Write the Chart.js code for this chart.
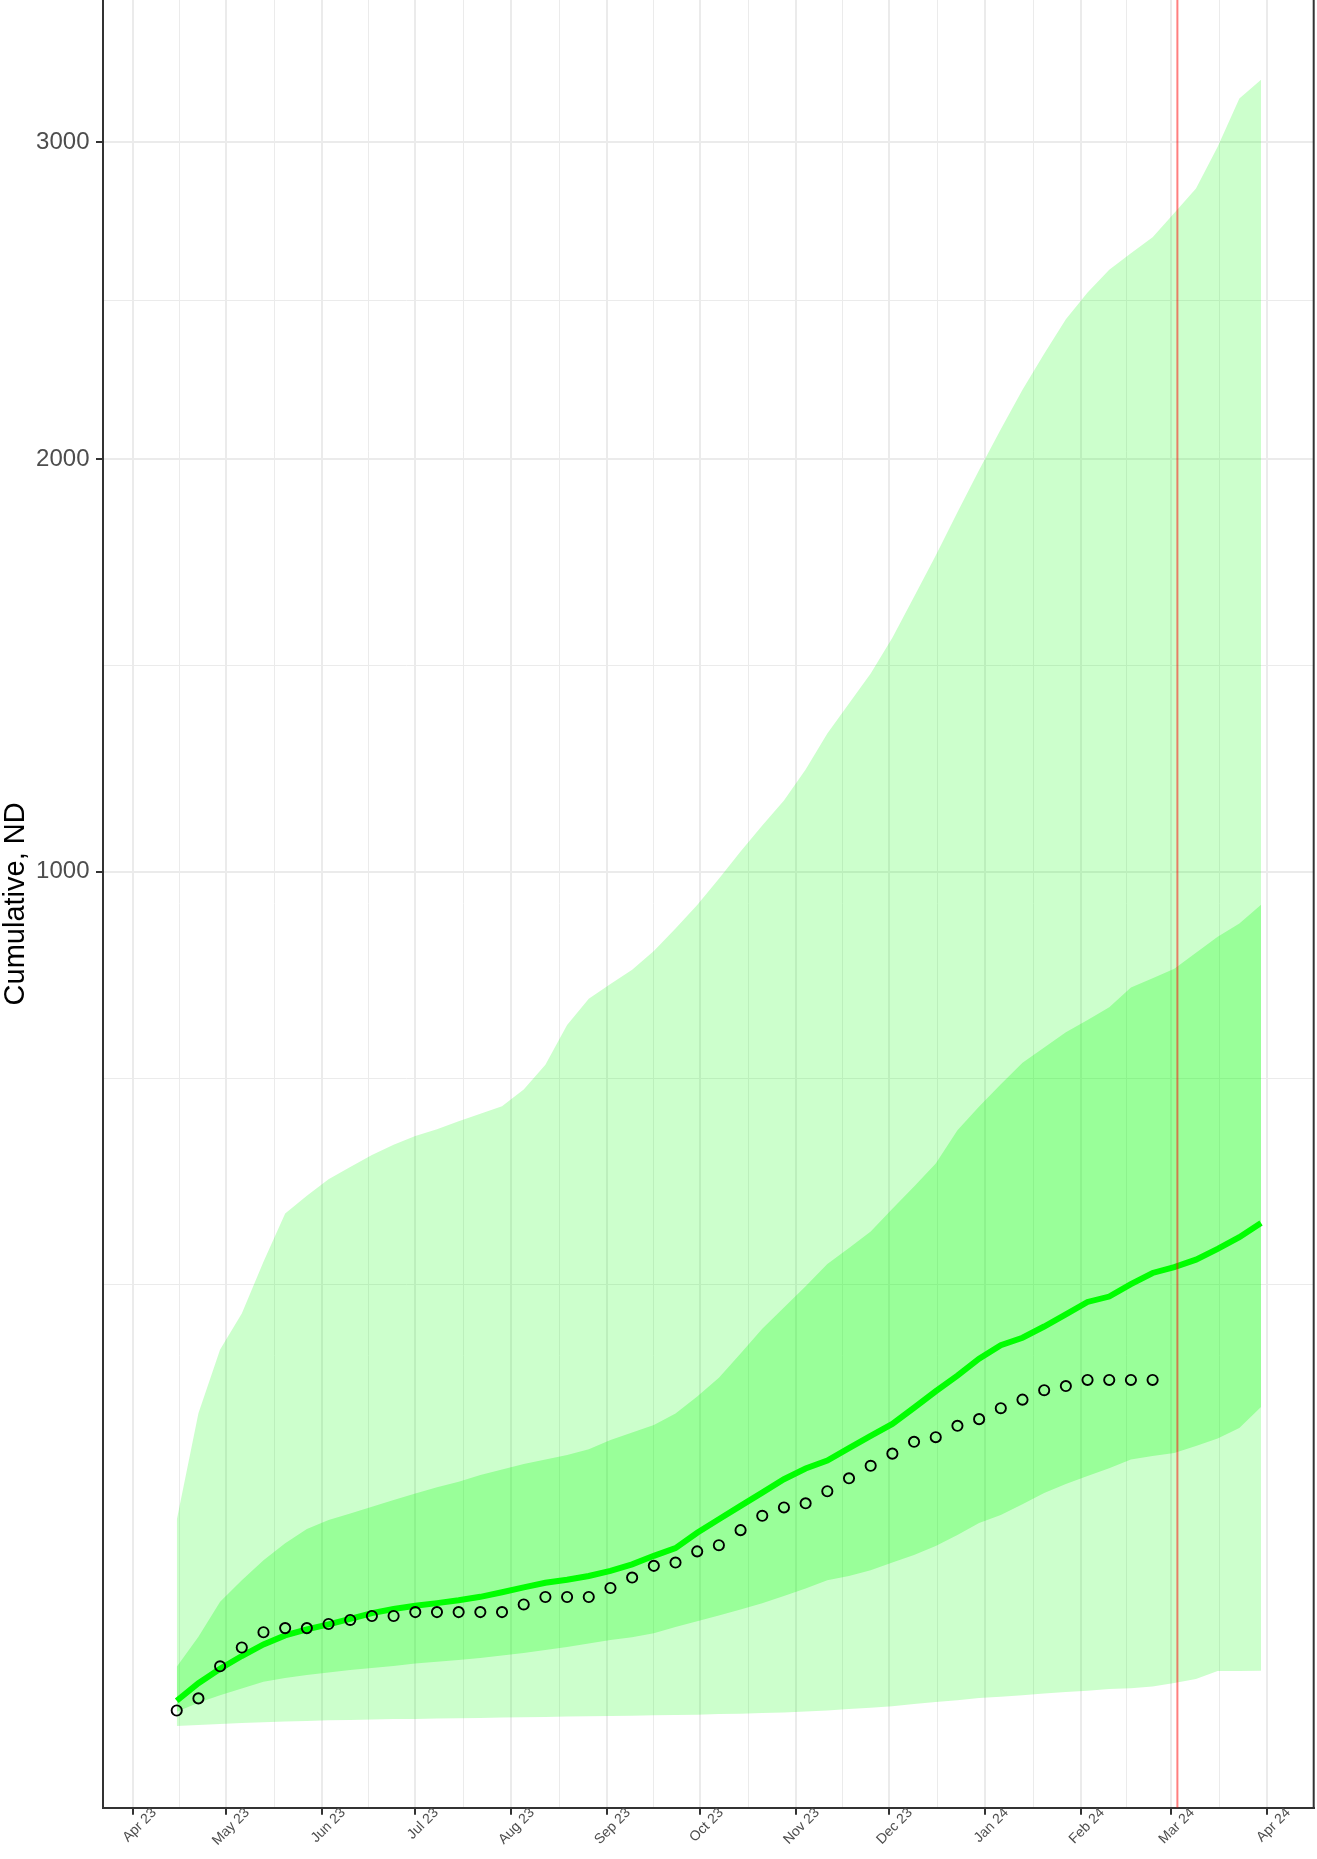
<!DOCTYPE html>
<html>
<head>
<meta charset="utf-8">
<script src="https://cdn.jsdelivr.net/npm/chart.js@4.4.0/dist/chart.umd.min.js"></script>
<style>
  html, body { margin: 0; padding: 0; background: #ffffff; }
  #wrap { width: 1317px; height: 1859px; overflow: hidden; }
</style>
</head>
<body>
<div id="wrap"><canvas id="chart" width="1317" height="1859"></canvas></div>
<script>
// weekly model dates
const weeks = [
  '2023-04-15', '2023-04-22', '2023-04-29', '2023-05-06', '2023-05-13', '2023-05-20', '2023-05-27',
  '2023-06-03', '2023-06-10', '2023-06-17', '2023-06-24', '2023-07-01', '2023-07-08', '2023-07-15',
  '2023-07-22', '2023-07-29', '2023-08-05', '2023-08-12', '2023-08-19', '2023-08-26', '2023-09-02',
  '2023-09-09', '2023-09-16', '2023-09-23', '2023-09-30', '2023-10-07', '2023-10-14', '2023-10-21',
  '2023-10-28', '2023-11-04', '2023-11-11', '2023-11-18', '2023-11-25', '2023-12-02', '2023-12-09',
  '2023-12-16', '2023-12-23', '2023-12-30', '2024-01-06', '2024-01-13', '2024-01-20', '2024-01-27',
  '2024-02-03', '2024-02-10', '2024-02-17', '2024-02-24', '2024-03-02', '2024-03-09', '2024-03-16',
  '2024-03-23', '2024-03-30'
]

// observed cumulative counts (first 46 weeks)
const observed = [
  25, 29, 41, 49, 56, 58, 58, 60, 62, 64, 64, 66, 66, 66, 66, 66, 70, 74, 74, 74,
  79, 85, 92, 94, 101, 105, 115, 125, 131, 134, 143, 153, 163, 173, 183, 187, 197, 203, 213, 221,
  230, 234, 240, 240, 240, 240
]

// model median
const fitted = [
  28.2, 34.4, 40.0, 45.3, 50.4, 54.5, 57.4, 59.8, 62.5, 65.5, 67.6, 69.3, 70.7, 72.2, 74.1, 76.6,
  79.4, 82.0, 83.7, 85.9, 89.0, 92.9, 98.2, 103.1, 113.2, 122.5, 132.1, 142.0, 152.3, 160.8, 167.3,
  177.7, 188.1, 198.7, 213.4, 229.0, 244.3, 261.4, 275.3, 283.3, 295.4, 308.7, 322.8, 329.0, 343.5,
  356.7, 363.8, 372.9, 386.2, 400.9, 419.1
]

// inner interval
const innerLow = [
  24.6, 27.5, 30.1, 32.5, 35.0, 36.4, 37.5, 38.5, 39.5, 40.3, 41.1, 42.1, 42.9, 43.6, 44.4, 45.5,
  46.6, 47.9, 49.2, 50.8, 52.4, 53.7, 55.5, 58.5, 61.4, 64.2, 67.3, 70.7, 74.5, 78.7, 83.5, 85.9,
  89.4, 94.0, 98.7, 104.4, 111.7, 119.9, 125.5, 133.4, 141.6, 148.5, 154.8, 161.1, 168.1, 171.0,
  173.5, 179.4, 185.8, 195.0, 214.2
]
const innerHigh = [
  40.8, 53.9, 71.4, 83.5, 95.5, 106.2, 115.8, 122.0, 126.7, 131.5, 136.4, 141.4, 146.0, 150.3,
  155.6, 160.1, 164.4, 168.2, 171.8, 176.6, 184.5, 191.2, 197.7, 208.2, 224.0, 242.1, 266.7, 292.9,
  316.4, 340.9, 367.4, 387.2, 408.0, 437.8, 467.9, 500.1, 548.5, 584.3, 618.9, 653.2, 678.4, 703.7,
  724.4, 746.5, 780.8, 797.6, 814.7, 843.8, 873.6, 898.7, 934.8
]

// outer interval
const outerLow = [
  20.3, 20.6, 20.9, 21.2, 21.4, 21.6, 21.8, 22.0, 22.1, 22.2, 22.4, 22.4, 22.5, 22.6, 22.7, 22.8,
  22.9, 23.0, 23.1, 23.2, 23.3, 23.4, 23.5, 23.6, 23.7, 23.9, 24.0, 24.2, 24.4, 24.7, 25.0, 25.5,
  25.9, 26.4, 27.1, 27.8, 28.4, 29.1, 29.6, 30.1, 30.7, 31.2, 31.7, 32.3, 32.6, 33.2, 34.5, 36.0,
  39.1, 39.1, 39.2
]
const outerHigh = [
  122.0, 208.3, 270.8, 309.8, 370.2, 431.4, 455.4, 478.0, 494.9, 512.0, 527.1, 539.7, 549.9, 561.7,
  573.2, 584.7, 610.4, 649.9, 716.1, 761.3, 787.1, 812.9, 846.9, 889.4, 934.4, 985.7, 1040.9, 1094.6,
  1148.1, 1215.4, 1296.3, 1366.3, 1437.3, 1524.5, 1627.8, 1735.3, 1851.7, 1969.0, 2085.3, 2201.0,
  2309.6, 2416.3, 2500.3, 2573.2, 2626.6, 2679.2, 2759.3, 2841.0, 2984.4, 3154.3, 3221.7
]

const monthTicks = [
  '2023-04-01', '2023-05-01', '2023-06-01', '2023-07-01', '2023-08-01', '2023-09-01', '2023-10-01',
  '2023-11-01', '2023-12-01', '2024-01-01', '2024-02-01', '2024-03-01', '2024-04-01'
]
const monthLabels = [
  'Apr 23', 'May 23', 'Jun 23', 'Jul 23', 'Aug 23', 'Sep 23', 'Oct 23',
  'Nov 23', 'Dec 23', 'Jan 24', 'Feb 24', 'Mar 24', 'Apr 24'
]
const yMajorTicks = [1000, 2000, 3000]
const cutoffDate = '2024-03-03'

const toDay = (s) => Date.parse(s + 'T00:00:00Z') / 86400000

const xMin = toDay('2023-03-22') + 0.2
const xMax = toDay('2024-04-16')
const yMin = 3.67
const yMax = 3515

// sqrt scale like scale_y_sqrt
class SqrtScale extends Chart.LinearScale {
  static id = 'sqrt'
  static defaults = Chart.LinearScale.defaults
  determineDataLimits() {
    this.min = this.options.min
    this.max = this.options.max
  }
  buildTicks() {
    const sq = yMajorTicks.map(Math.sqrt)
    const step = sq[1] - sq[0]
    const ext = [sq[0] - step, ...sq]
    const out = []
    ext.forEach((s, i) => {
      out.push({ value: s * s, major: yMajorTicks.includes(Math.round(s * s)) })
      if (i < ext.length - 1) out.push({ value: ((s + ext[i + 1]) / 2) ** 2, major: false })
    })
    return out.filter(t => t.value >= this.min && t.value <= this.max)
  }
  configure() {
    super.configure()
    this._sMin = Math.sqrt(this.min)
    this._sRange = Math.sqrt(this.max) - this._sMin
  }
  getPixelForValue(value) {
    return this.getPixelForDecimal((Math.sqrt(value) - this._sMin) / this._sRange)
  }
  getValueForPixel(pixel) {
    const s = this._sMin + this.getDecimalForPixel(pixel) * this._sRange
    return s * s
  }
}
Chart.register(SqrtScale)

const xTicks = []
monthTicks.forEach((d, i) => {
  xTicks.push({ value: toDay(d), major: true, name: monthLabels[i] })
  if (i < monthTicks.length - 1) {
    xTicks.push({ value: (toDay(d) + toDay(monthTicks[i + 1])) / 2, major: false, name: '' })
  }
})

const pts = (arr) => arr.map((v, i) => ({ x: toDay(weeks[i]), y: v }))

const panelBorder = {
  id: 'panelBorder',
  afterDatasetsDraw(chart) {
    const { ctx, chartArea } = chart
    ctx.save()
    ctx.strokeStyle = '#333333'
    ctx.lineWidth = 2
    ctx.beginPath()
    ctx.moveTo(chartArea.right, chartArea.top)
    ctx.lineTo(chartArea.right, chartArea.bottom)
    ctx.stroke()
    ctx.restore()
  }
}

const font = 'Liberation Sans, Arial, Helvetica, sans-serif'
const ctx = document.getElementById('chart')

new Chart(ctx, {
  type: 'line',
  data: {
    datasets: [
      {
        label: 'outer low',
        data: pts(outerLow),
        borderWidth: 0,
        pointRadius: 0,
        fill: false,
        order: 5
      },
      {
        label: 'outer high',
        data: pts(outerHigh),
        borderWidth: 0,
        pointRadius: 0,
        fill: '-1',
        backgroundColor: 'rgba(0, 255, 0, 0.2)',
        order: 5
      },
      {
        label: 'inner low',
        data: pts(innerLow),
        borderWidth: 0,
        pointRadius: 0,
        fill: false,
        order: 4
      },
      {
        label: 'inner high',
        data: pts(innerHigh),
        borderWidth: 0,
        pointRadius: 0,
        fill: '-1',
        backgroundColor: 'rgba(0, 255, 0, 0.25)',
        order: 4
      },
      {
        label: 'median',
        data: pts(fitted),
        borderColor: '#00ff00',
        borderWidth: 6,
        pointRadius: 0,
        fill: false,
        order: 3
      },
      {
        label: 'observed',
        data: pts(observed),
        showLine: false,
        pointRadius: 5.1,
        pointBorderWidth: 1.9,
        pointBorderColor: '#000000',
        pointBackgroundColor: 'rgba(0,0,0,0)',
        order: 2
      },
      {
        label: 'cutoff',
        data: [{ x: toDay(cutoffDate), y: yMin }, { x: toDay(cutoffDate), y: yMax }],
        borderColor: 'rgba(255, 0, 0, 0.5)',
        borderWidth: 2,
        pointRadius: 0,
        fill: false,
        order: 1
      }
    ]
  },
  options: {
    responsive: false,
    animation: false,
    devicePixelRatio: 1,
    layout: { autoPadding: false, padding: { top: 0, right: 3.3, bottom: 0, left: 0 } },
    plugins: {
      legend: { display: false },
      tooltip: { enabled: false }
    },
    scales: {
      x: {
        type: 'linear',
        min: xMin,
        max: xMax,
        bounds: 'data',
        afterBuildTicks: (scale) => { scale.ticks = xTicks.map(t => ({ ...t })) },
        afterFit: (scale) => {
          scale.height = 1859 - 1807.7
          scale.paddingLeft = 0
          scale.paddingRight = 0
        },
        grid: {
          color: '#ebebeb',
          lineWidth: (c) => (c.tick && c.tick.major ? 2 : 1),
          tickColor: (c) => (c.tick && c.tick.major ? '#333333' : 'rgba(0,0,0,0)'),
          tickWidth: 2,
          tickLength: 7
        },
        border: { display: true, color: '#333333', width: 2 },
        ticks: {
          autoSkip: false,
          minRotation: 45,
          maxRotation: 45,
          padding: -10,
          labelOffset: 21,
          color: '#4d4d4d',
          font: { family: font, size: 14 },
          callback: (value, index, ticks) => ticks[index].name
        }
      },
      y: {
        type: 'sqrt',
        min: yMin,
        max: yMax,
        afterFit: (scale) => {
          scale.width = 103
          scale.paddingTop = 0
          scale.paddingBottom = 0
        },
        grid: {
          color: '#ebebeb',
          lineWidth: (c) => (c.tick && c.tick.major ? 2 : 1),
          tickColor: (c) => (c.tick && c.tick.major ? '#333333' : 'rgba(0,0,0,0)'),
          tickWidth: 2,
          tickLength: 7
        },
        border: { display: true, color: '#333333', width: 2 },
        ticks: {
          padding: 6.5,
          color: '#4d4d4d',
          font: { family: font, size: 24 },
          callback: (value, index, ticks) => (ticks[index].major ? String(Math.round(value)) : '')
        },
        title: {
          display: true,
          text: 'Cumulative, ND',
          color: '#000000',
          font: { family: font, size: 29, lineHeight: 1.1 },
          padding: { top: 0, bottom: 0 }
        }
      }
    }
  },
  plugins: [panelBorder]
})
</script>
</body>
</html>
